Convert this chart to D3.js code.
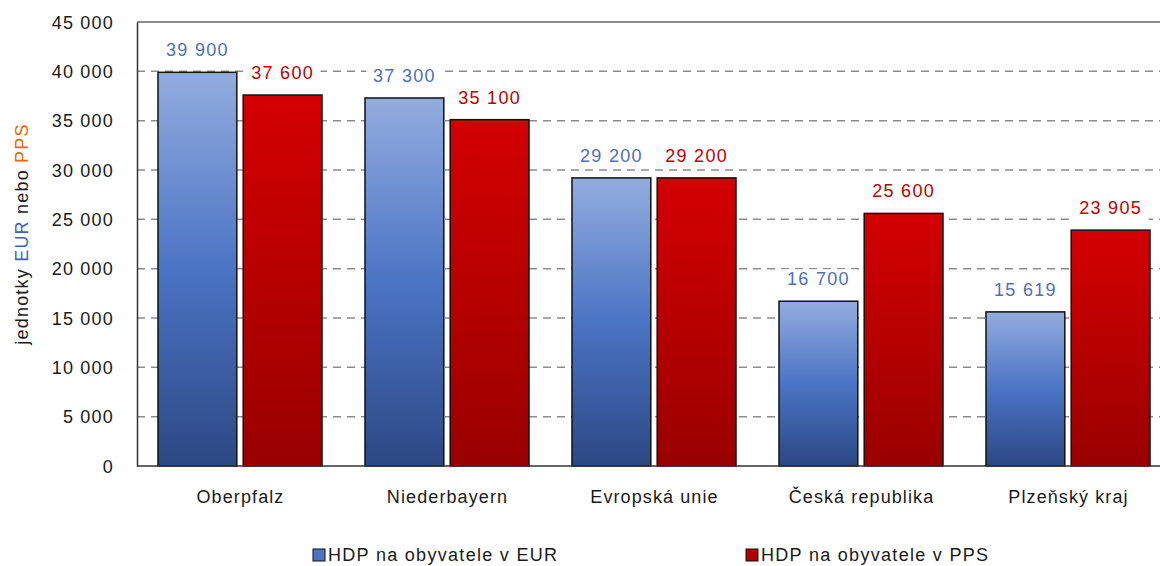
<!DOCTYPE html>
<html>
<head>
<meta charset="utf-8">
<script src="https://cdn.jsdelivr.net/npm/d3@7"></script>
<style>
  body { margin: 0; background: #fff; }
  svg { font-family: "Liberation Sans", Arial, sans-serif; }
</style>
</head>
<body>
<div id="chart"></div>
<script>
// data
let categories = ["Oberpfalz", "Niederbayern", "Evropská unie", "Česká republika", "Plzeňský kraj"];
let seriesNames = ["HDP na obyvatele v EUR", "HDP na obyvatele v PPS"];
let eurValues = [39900, 37300, 29200, 16700, 15619];
let ppsValues = [37600, 35100, 29200, 25600, 23905];
let yTicks = [0, 5000, 10000, 15000, 20000, 25000, 30000, 35000, 40000, 45000];

let width = 1160;
let height = 566;

// plot area (runs past the right edge like the original)
let margin = { top: 22, left: 137, bottom: 100 };
let plotRight = 1172;
let plotBottom = height - margin.bottom;

let svg = d3.select("#chart")
  .append("svg")
  .attr("width", width)
  .attr("height", height);

let defs = svg.append("defs");
let gradBlue = defs.append("linearGradient").attr("id", "gBlue")
  .attr("x1", 0).attr("y1", 0).attr("x2", 0).attr("y2", 1);
gradBlue.append("stop").attr("offset", "0%").attr("stop-color", "#93acdf");
gradBlue.append("stop").attr("offset", "50%").attr("stop-color", "#4a74c4");
gradBlue.append("stop").attr("offset", "100%").attr("stop-color", "#2c4883");
let gradRed = defs.append("linearGradient").attr("id", "gRed")
  .attr("x1", 0).attr("y1", 0).attr("x2", 0).attr("y2", 1);
gradRed.append("stop").attr("offset", "0%").attr("stop-color", "#d40000");
gradRed.append("stop").attr("offset", "100%").attr("stop-color", "#990000");

let fills = ["url(#gBlue)", "url(#gRed)"];
let labelColors = ["#4f6fb8", "#c00000"];

// scales
let fnX0 = d3.scaleBand()
  .domain(categories)
  .range([margin.left, plotRight]);

let fnX1 = d3.scaleBand()
  .domain([0, 1])
  .range([21, 185])
  .paddingInner(0.075);

let fnY = d3.scaleLinear()
  .domain([0, 45000])
  .range([plotBottom, margin.top]);

let fmt = v => d3.format(",")(v).replace(/,/g, " ");

// gridlines
svg.append("g")
  .selectAll("line")
  .data(yTicks.filter(t => t > 0 && t < 45000))
  .enter()
  .append("line")
  .attr("x1", margin.left)
  .attr("x2", plotRight)
  .attr("y1", d => fnY(d))
  .attr("y2", d => fnY(d))
  .attr("stroke", "#8c8c8c")
  .attr("stroke-width", 1.5)
  .attr("stroke-dasharray", "8,6");

// frame: top
svg.append("line")
  .attr("x1", margin.left).attr("x2", plotRight)
  .attr("y1", fnY(45000)).attr("y2", fnY(45000))
  .attr("stroke", "#666").attr("stroke-width", 1.5);

// y axis
let yAxis = d3.axisLeft(fnY).tickValues(yTicks).tickSize(0).tickPadding(23).tickFormat(fmt);
let gy = svg.append("g")
  .attr("transform", `translate(${margin.left}, 0)`)
  .call(yAxis);
gy.select(".domain").attr("stroke", "#333").attr("stroke-width", 1.5);
gy.selectAll("text")
  .attr("font-size", 18)
  .attr("font-family", "Liberation Sans, Arial, sans-serif")
  .attr("letter-spacing", 1.2)
  .attr("fill", "#1a1a1a")
  .attr("dy", "0.35em");

// bars
let rows = categories.map((c, i) => ({ cat: c, vals: [eurValues[i], ppsValues[i]] }));

let groups = svg.selectAll(".grp")
  .data(rows)
  .enter()
  .append("g")
  .attr("class", "grp")
  .attr("transform", d => `translate(${fnX0(d.cat)}, 0)`);

groups.selectAll("rect.bar")
  .data(d => d.vals.map((v, k) => ({ k: k, v: v })))
  .enter()
  .append("rect")
  .attr("class", "bar")
  .attr("x", d => fnX1(d.k))
  .attr("y", d => fnY(d.v))
  .attr("width", fnX1.bandwidth())
  .attr("height", d => plotBottom - fnY(d.v))
  .attr("fill", d => fills[d.k])
  .attr("stroke", "#111")
  .attr("stroke-width", 1.5);

// white boxes behind value labels (they cut the gridlines)
groups.selectAll("rect.lblbg")
  .data(d => d.vals.map((v, k) => ({ k: k, v: v })))
  .enter()
  .append("rect")
  .attr("class", "lblbg")
  .attr("x", d => fnX1(d.k) + fnX1.bandwidth() / 2 - 38)
  .attr("y", d => fnY(d.v) - 32)
  .attr("width", 76)
  .attr("height", 22)
  .attr("fill", "#fff");

groups.selectAll(".vlabel")
  .data(d => d.vals.map((v, k) => ({ k: k, v: v })))
  .enter()
  .append("text")
  .attr("class", "vlabel")
  .attr("x", d => fnX1(d.k) + fnX1.bandwidth() / 2)
  .attr("y", d => fnY(d.v) - 16)
  .attr("text-anchor", "middle")
  .attr("font-size", 18)
  .attr("letter-spacing", 1.3)
  .attr("fill", d => labelColors[d.k])
  .text(d => fmt(d.v));

// x axis line
svg.append("line")
  .attr("x1", margin.left).attr("x2", plotRight)
  .attr("y1", plotBottom).attr("y2", plotBottom)
  .attr("stroke", "#333").attr("stroke-width", 1.5);

// category labels
svg.append("g")
  .selectAll("text")
  .data(categories)
  .enter()
  .append("text")
  .attr("x", d => fnX0(d) + fnX0.bandwidth() / 2)
  .attr("y", plotBottom + 37)
  .attr("text-anchor", "middle")
  .attr("font-size", 18)
  .attr("letter-spacing", 1.1)
  .attr("fill", "#1a1a1a")
  .text(d => d);

// y axis title
let yTitle = svg.append("text")
  .attr("transform", `translate(28, ${(margin.top + plotBottom) / 2 - 10}) rotate(-90)`)
  .attr("text-anchor", "middle")
  .attr("font-size", 18)
  .attr("letter-spacing", 1.2)
  .attr("fill", "#1a1a1a");
yTitle.append("tspan").text("jednotky ");
yTitle.append("tspan").attr("fill", "#3f63b8").text("EUR");
yTitle.append("tspan").text(" nebo ");
yTitle.append("tspan").attr("fill", "#e46c0a").text("PPS");

// legend
let legendX = [313, 746];
let legend = svg.selectAll(".legend")
  .data(seriesNames)
  .enter()
  .append("g")
  .attr("class", "legend")
  .attr("transform", (d, i) => `translate(${legendX[i]}, 555)`);
legend.append("rect")
  .attr("x", 0).attr("y", -6)
  .attr("width", 12).attr("height", 12)
  .attr("fill", (d, i) => i === 0 ? "#4a74c4" : "#b00000")
  .attr("stroke", "#111")
  .attr("stroke-width", 1);
legend.append("text")
  .attr("x", 15)
  .attr("dy", "0.35em")
  .attr("font-size", 18)
  .attr("letter-spacing", 1.3)
  .attr("fill", "#1a1a1a")
  .text(d => d);
</script>
</body>
</html>
